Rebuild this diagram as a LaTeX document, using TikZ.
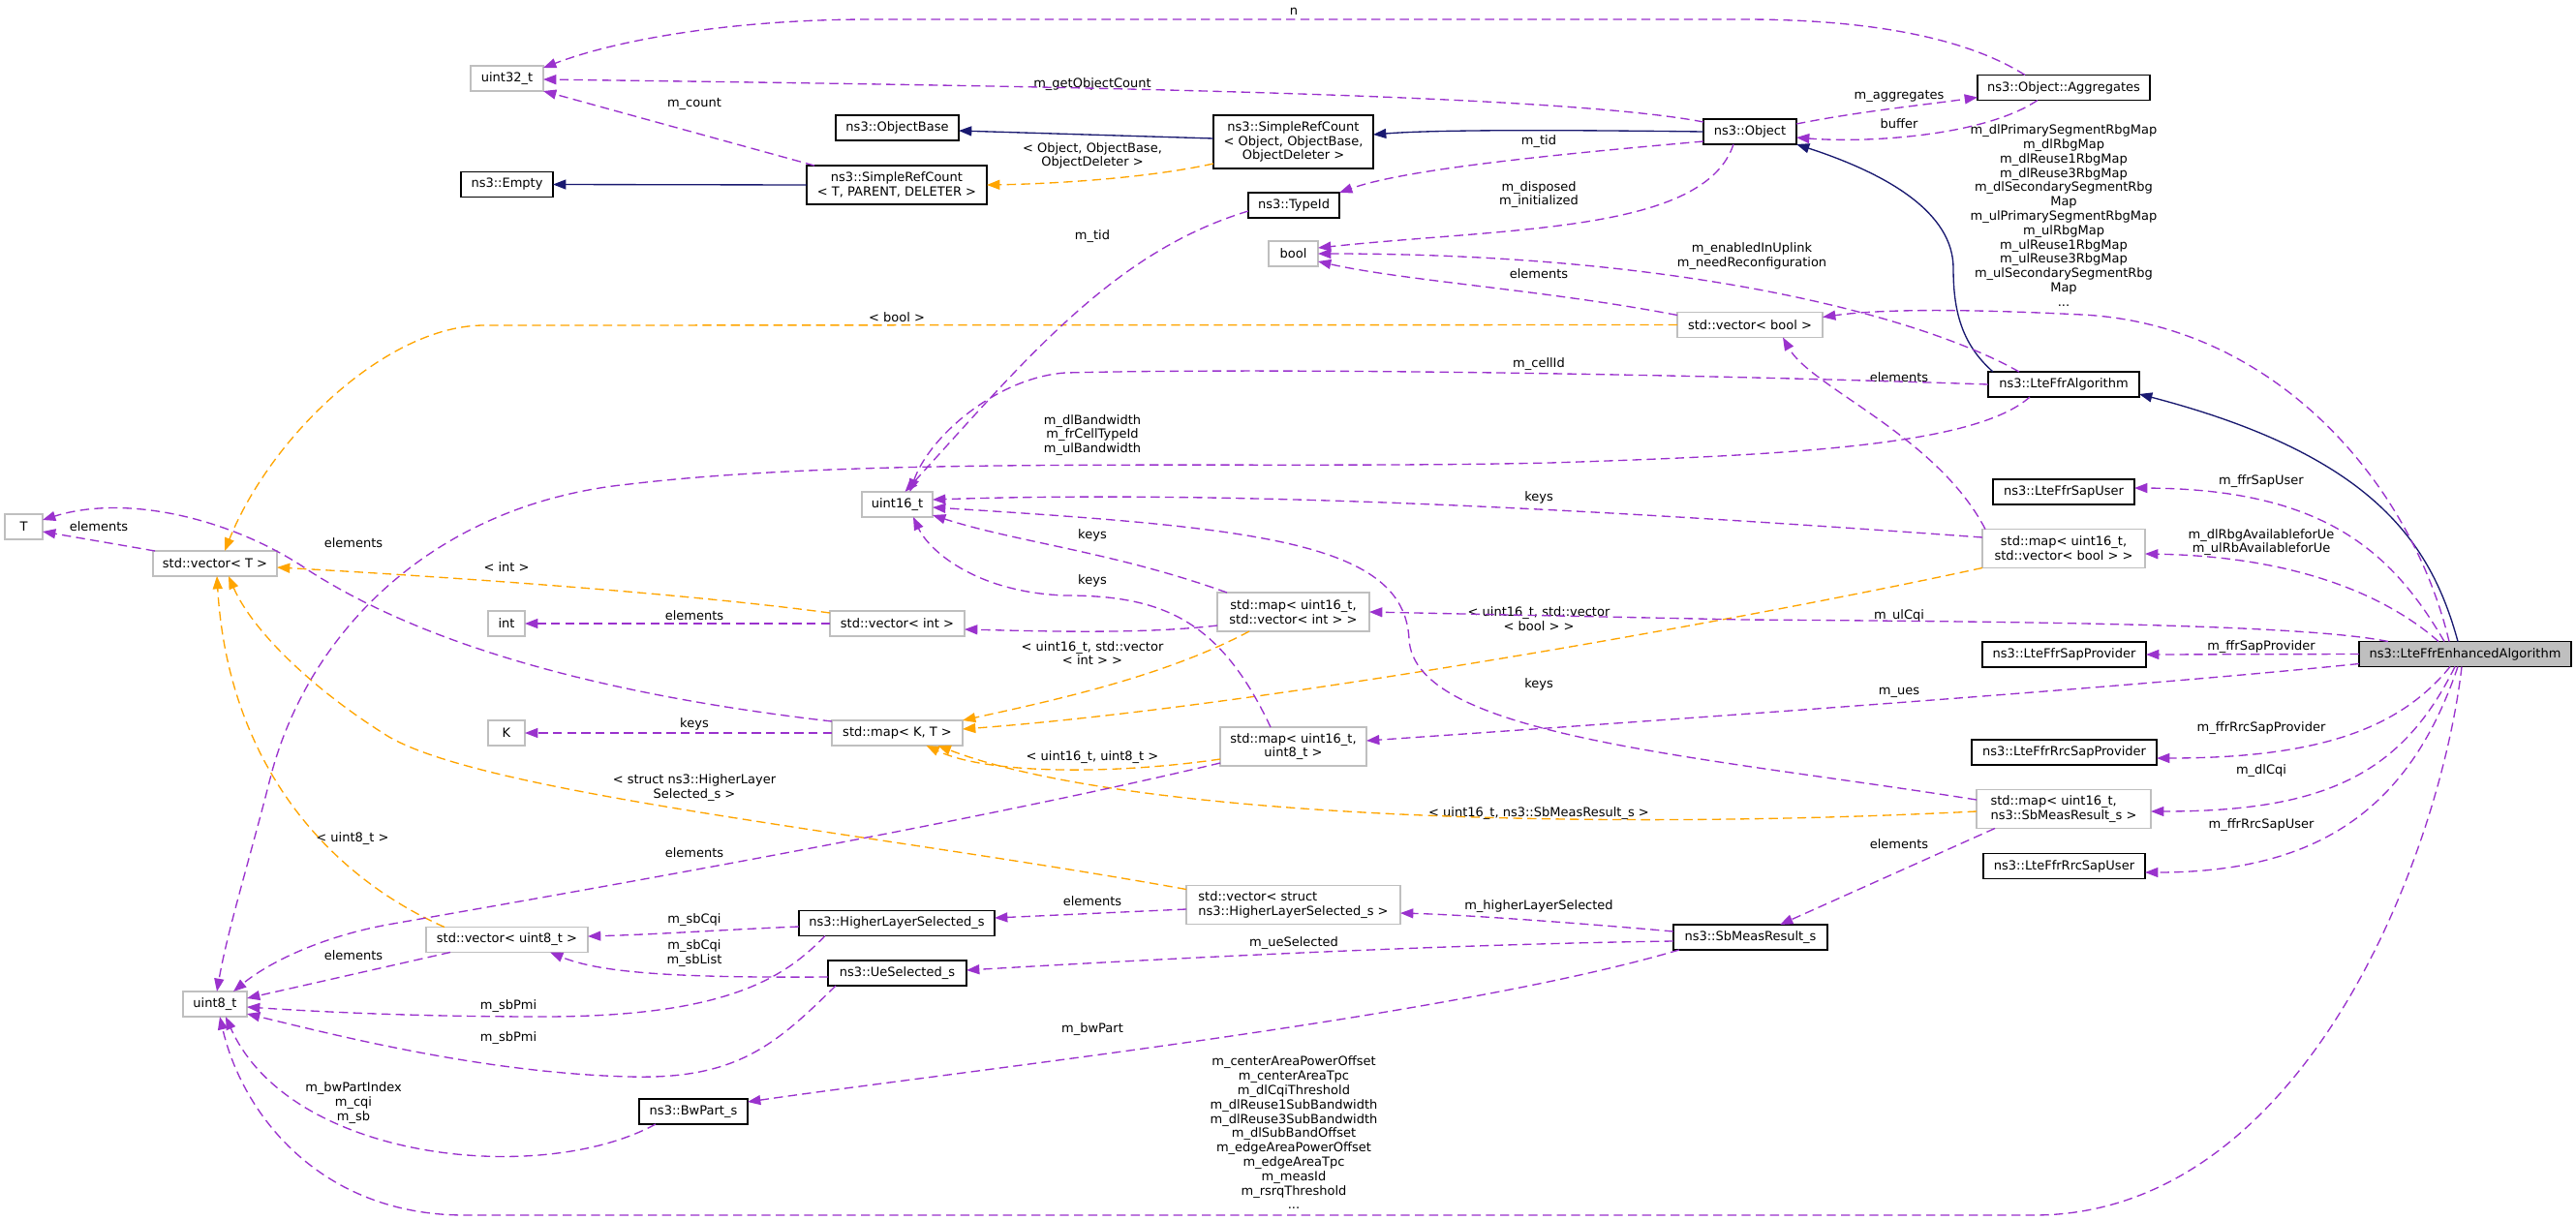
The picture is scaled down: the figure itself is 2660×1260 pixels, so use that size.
\documentclass[tikz,border=0pt]{standalone}
\usepackage{fontspec}
\setmainfont{DejaVu Sans}
\usetikzlibrary{arrows.meta,calc}
\definecolor{pur}{HTML}{9A32CD}
\definecolor{org}{HTML}{FFA500}
\definecolor{nav}{HTML}{191970}
\definecolor{gry}{HTML}{BFBFBF}
\begin{document}
\begin{tikzpicture}[x=0.75pt,y=-0.75pt,
  every node/.style={font=\fontsize{9.75}{11.1}\selectfont, inner sep=0pt, outer sep=0pt},
  cls/.style={draw=black, line width=0.9pt, minimum height=19.5pt, fill=white, align=center},
  ext/.style={draw=gry, line width=0.9pt, minimum height=19.5pt, fill=white, align=center},
  twol/.style={minimum height=30pt},
  threel/.style={minimum height=41.25pt},
  lbl/.style={align=center},
  pe/.style={draw=pur, line width=1pt, dash pattern=on 7pt off 4pt, -{Triangle[length=10pt,width=7.5pt]}},
  oe/.style={draw=org, line width=1pt, dash pattern=on 7pt off 4pt, -{Triangle[length=10pt,width=7.5pt]}},
  ne/.style={draw=nav, line width=1pt, -{Triangle[length=10pt,width=7.5pt]}}
]
\fill[white] (0,0) rectangle (2660,1260);
\useasboundingbox (0,0) rectangle (2660,1260);

% ---------- class nodes ----------
\node[cls, minimum width=95.25pt] (objbase) at (926.5,132) {ns3::ObjectBase};
\node[cls, threel, minimum width=123.75pt] (srcobj) at (1335.5,146.5) {ns3::SimpleRefCount\\< Object, ObjectBase,\\ObjectDeleter >};
\node[cls, minimum width=72pt] (object) at (1807,136) {ns3::Object};
\node[cls, minimum width=133.5pt] (aggr) at (2131,90.5) {ns3::Object::Aggregates};
\node[cls, minimum width=71.25pt] (empty) at (523.5,190.5) {ns3::Empty};
\node[cls, twol, minimum width=139.5pt] (srct) at (926,191) {ns3::SimpleRefCount\\< T, PARENT, DELETER >};
\node[cls, minimum width=70.5pt] (typeid) at (1336,212) {ns3::TypeId};
\node[cls, minimum width=117pt] (ffralg) at (2131,397) {ns3::LteFfrAlgorithm};
\node[cls, minimum width=109.5pt] (sapuser) at (2131,508) {ns3::LteFfrSapUser};
\node[cls, minimum width=126.75pt] (sapprov) at (2131.5,676) {ns3::LteFfrSapProvider};
\node[cls, fill=gry, minimum width=164.25pt] (main) at (2545.5,675.5) {ns3::LteFfrEnhancedAlgorithm};
\node[cls, minimum width=143.25pt] (rrcprov) at (2131.5,777) {ns3::LteFfrRrcSapProvider};
\node[cls, minimum width=125.25pt] (rrcuser) at (2131.5,894.5) {ns3::LteFfrRrcSapUser};
\node[cls, minimum width=119.25pt] (sbmeas) at (1807.5,968) {ns3::SbMeasResult\_s};
\node[cls, minimum width=151.5pt] (hls) at (926,953.5) {ns3::HigherLayerSelected\_s};
\node[cls, minimum width=107.25pt] (uesel) at (926.5,1005) {ns3::UeSelected\_s};
\node[cls, minimum width=84pt] (bwpart) at (716,1148) {ns3::BwPart\_s};

% ---------- external nodes ----------
\node[ext, minimum width=56.25pt] (u32) at (523.5,81) {uint32\_t};
\node[ext, minimum width=38.25pt] (bool) at (1335.5,262) {bool};
\node[ext, minimum width=112.5pt] (vbool) at (1807,335.5) {std::vector< bool >};
\node[ext, minimum width=29.25pt] (T) at (24.5,544) {T};
\node[ext, minimum width=96pt] (vt) at (222,582) {std::vector< T >};
\node[ext, minimum width=54.75pt] (u16) at (926.5,521) {uint16\_t};
\node[ext, minimum width=28.5pt] (int) at (523,644) {int};
\node[ext, minimum width=104.25pt] (vint) at (926.5,644) {std::vector< int >};
\node[ext, minimum width=28.5pt] (K) at (523,757) {K};
\node[ext, minimum width=101.25pt] (mapkt) at (926.5,757) {std::map< K, T >};
\node[ext, twol, minimum width=117.75pt] (mapvint) at (1335.5,632) {std::map< uint16\_t,\\std::vector< int > >};
\node[ext, twol, minimum width=113.25pt] (mapu8) at (1335.5,771) {std::map< uint16\_t,\\uint8\_t >};
\node[ext, twol, minimum width=126pt] (mapvbool) at (2131,566.5) {std::map< uint16\_t,\\std::vector< bool > >};
\node[ext, twol, minimum width=135pt, align=left] (mapsb) at (2131,835.5) {std::map< uint16\_t,\\ns3::SbMeasResult\_s >};
\node[ext, twol, minimum width=165.75pt, align=left] (vhls) at (1335.5,934.5) {std::vector< struct\\ ns3::HigherLayerSelected\_s >};
\node[ext, minimum width=49.5pt] (u8) at (222,1037) {uint8\_t};
\node[ext, minimum width=125.25pt] (vu8) at (523.5,970.5) {std::vector< uint8\_t >};

% ---------- edge labels ----------
\node[lbl] (lbn) at (1336,12) {n};
\node[lbl] (lbgoc) at (1128,87) {m\_getObjectCount};
\node[lbl] (lbcount) at (717,107) {m\_count};
\node[lbl] (lbaggr) at (1961,99) {m\_aggregates};
\node[lbl] (lbbuf) at (1961,128) {buffer};
\node[lbl] (lbtid1) at (1589,146) {m\_tid};
\node[lbl] (lbdisp) at (1589,201) {m\_disposed\\m\_initialized};
\node[lbl] (lbtmobj) at (1128,161) {< Object, ObjectBase,\\ObjectDeleter >};
\node[lbl] (lbtid2) at (1128,244) {m\_tid};
\node[lbl] (lbbig) at (2131,222.5) {m\_dlPrimarySegmentRbgMap\\m\_dlRbgMap\\m\_dlReuse1RbgMap\\m\_dlReuse3RbgMap\\m\_dlSecondarySegmentRbg\\Map\\m\_ulPrimarySegmentRbgMap\\m\_ulRbgMap\\m\_ulReuse1RbgMap\\m\_ulReuse3RbgMap\\m\_ulSecondarySegmentRbg\\Map\\...};
\node[lbl] (lbenab) at (1809,264.5) {m\_enabledInUplink\\m\_needReconfiguration};
\node[lbl] (lbelbool) at (1589,283) {elements};
\node[lbl] (lbbool) at (926,328) {< bool >};
\node[lbl] (lbcell) at (1589,376) {m\_cellId};
\node[lbl] (lbelvb) at (1961,390) {elements};
\node[lbl] (lbbw) at (1128,449.5) {m\_dlBandwidth\\m\_frCellTypeId\\m\_ulBandwidth};
\node[lbl] (lbkeys1) at (1589,514) {keys};
\node[lbl] (lbelT1) at (102,544) {elements};
\node[lbl] (lbelT2) at (365,561) {elements};
\node[lbl] (lbkeys2) at (1128,553) {keys};
\node[lbl] (lbint) at (523,586) {< int >};
\node[lbl] (lbkeys3) at (1128,600) {keys};
\node[lbl] (lbtmvint) at (1128,674.5) {< uint16\_t, std::vector\\< int > >};
\node[lbl] (lbelint) at (717,636) {elements};
\node[lbl] (lbtmvbool) at (1589,639.5) {< uint16\_t, std::vector\\< bool > >};
\node[lbl] (lbulcqi) at (1961,636) {m\_ulCqi};
\node[lbl] (lbues) at (1961,715) {m\_ues};
\node[lbl] (lbkeysK) at (717,748) {keys};
\node[lbl] (lbtmu8) at (1128,782) {< uint16\_t, uint8\_t >};
\node[lbl] (lbkeys4) at (1589,707) {keys};
\node[lbl] (lbtmhls) at (717,813.5) {< struct ns3::HigherLayer\\Selected\_s >};
\node[lbl] (lbtmsb) at (1589,840) {< uint16\_t, ns3::SbMeasResult\_s >};
\node[lbl] (lbtmu8b) at (364,866) {< uint8\_t >};
\node[lbl] (lbelu8) at (717,881) {elements};
\node[lbl] (lbelsb) at (1961,872) {elements};
\node[lbl] (lbelhls) at (1128,931) {elements};
\node[lbl] (lbhls) at (1589,936) {m\_higherLayerSelected};
\node[lbl] (lbsbcqi) at (717,950) {m\_sbCqi};
\node[lbl] (lbuesel) at (1336,974) {m\_ueSelected};
\node[lbl] (lbsblist) at (717,984.5) {m\_sbCqi\\m\_sbList};
\node[lbl] (lbelvu8) at (365,987) {elements};
\node[lbl] (lbpmi1) at (525,1039) {m\_sbPmi};
\node[lbl] (lbpmi2) at (525,1072) {m\_sbPmi};
\node[lbl] (lbbwp) at (1128,1063) {m\_bwPart};
\node[lbl] (lbbwpi) at (365,1139) {m\_bwPartIndex\\m\_cqi\\m\_sb};
\node[lbl] (lbbottom) at (1336,1170) {m\_centerAreaPowerOffset\\m\_centerAreaTpc\\m\_dlCqiThreshold\\m\_dlReuse1SubBandwidth\\m\_dlReuse3SubBandwidth\\m\_dlSubBandOffset\\m\_edgeAreaPowerOffset\\m\_edgeAreaTpc\\m\_measId\\m\_rsrqThreshold\\...};
\node[lbl] (lbsapu) at (2335,497) {m\_ffrSapUser};
\node[lbl] (lbrbg) at (2335,560) {m\_dlRbgAvailableforUe\\m\_ulRbAvailableforUe};
\node[lbl] (lbsapp) at (2335,668) {m\_ffrSapProvider};
\node[lbl] (lbrrcp) at (2335,752) {m\_ffrRrcSapProvider};
\node[lbl] (lbdlcqi) at (2335,796) {m\_dlCqi};
\node[lbl] (lbrrcu) at (2335,852) {m\_ffrRrcSapUser};

% ---------- inheritance (navy) ----------
\draw[ne] ($(main.north)+(-7.5,0)$) .. controls (2510,560) and (2450,470) .. ($(ffralg.east)+(0,10)$);
\draw[ne] ($(ffralg.north)+(-73,0)$) .. controls (2025,355) and (2017,320) .. (2017,277) .. controls (2017,220) and (1950,180) .. (object.south east);
\draw[ne] (object.west) .. controls (1600,134) and (1480,134) .. ($(srcobj.east)+(0,-7.5)$);
\draw[ne] ($(srcobj.west)+(0,-3.5)$) -- ($(objbase.east)+(0,3)$);
\draw[ne] (srct.west) -- (empty.east);

% ---------- template instances (orange) ----------
\draw[oe] ($(srcobj.west)+(0,22.5)$) .. controls (1180,185) and (1080,190) .. (srct.east);
\draw[oe] (vbool.west) -- (500,336) .. controls (400,336) and (280,450) .. ($(vt.north)+(10,0)$);
\draw[oe] ($(vint.west)+(0,-11)$) .. controls (700,612) and (450,595) .. ($(vt.east)+(0,4)$);
\draw[oe] ($(vhls.north west)+(0,4)$) .. controls (900,860) and (500,820) .. (400,760) .. controls (320,710) and (260,650) .. ($(vt.south)+(14,0)$);
\draw[oe] ($(vu8.north)+(-64.5,0)$) .. controls (330,900) and (235,780) .. ($(vt.south)+(2,0)$);
\draw[oe] ($(mapvint.south west)+(33,0)$) .. controls (1200,700) and (1080,725) .. (mapkt.north east);
\draw[oe] (mapvbool.south west) .. controls (1800,640) and (1300,730) .. ($(mapkt.east)+(0,-4)$);
\draw[oe] ($(mapu8.west)+(0,13)$) .. controls (1150,800) and (1020,800) .. ($(mapkt.south)+(30,0)$);
\draw[oe] ($(mapsb.west)+(0,2.5)$) .. controls (1600,860) and (1150,840) .. ($(mapkt.south)+(42,0)$);

% ---------- members (purple) ----------
\draw[pe] ($(aggr.north)+(-40,0)$) .. controls (2040,45) and (1950,20) .. (1800,20) -- (900,20) .. controls (760,20) and (640,40) .. ($(u32.east)+(0,-11)$);
\draw[pe] ($(object.west)+(0,-10)$) .. controls (1600,95) and (1000,88) .. ($(u32.east)+(0,1)$);
\draw[pe] ($(srct.north)+(-85,0)$) -- (u32.south east);
\draw[pe] ($(object.east)+(0,-8)$) .. controls (1920,115) and (1990,108) .. ($(aggr.west)+(0,10)$);
\draw[pe] ($(aggr.south)+(-27,0)$) .. controls (2050,140) and (1930,148) .. ($(object.east)+(0,6)$);
\draw[pe] ($(object.west)+(0,10)$) .. controls (1600,160) and (1450,175) .. (typeid.north east);
\draw[pe] ($(object.south)+(-17,0)$) .. controls (1760,240) and (1560,235) .. ($(bool.east)+(0,-6)$);
\draw[pe] ($(typeid.west)+(0,6)$) .. controls (1150,260) and (1060,370) .. ($(u16.north)+(8,0)$);
\draw[pe] ($(ffralg.north)+(-46,0)$) .. controls (1990,330) and (1750,262) .. (bool.east);
\draw[pe] ($(vbool.west)+(0,-10)$) .. controls (1600,300) and (1450,290) .. ($(bool.east)+(0,8)$);
\draw[pe] ($(main.north)+(-16.5,0)$) .. controls (2490,500) and (2350,335) .. (2150,325) .. controls (2050,320) and (1950,318) .. ($(vbool.east)+(0,-8)$);
\draw[pe] (ffralg.west) .. controls (1700,385) and (1300,380) .. (1100,385) .. controls (1030,390) and (960,450) .. ($(u16.north)+(13,0)$);
\draw[pe] ($(ffralg.south)+(-35,0)$) .. controls (2040,460) and (1850,470) .. (1600,478) .. controls (1300,485) and (900,470) .. (650,500) .. controls (450,520) and (320,650) .. (280,800) .. controls (260,880) and (235,960) .. ($(u8.north)+(2,0)$);
\draw[pe] ($(mapvbool.north west)+(3,0)$) .. controls (2000,450) and (1870,400) .. ($(vbool.south)+(34,0)$);
\draw[pe] ($(mapvbool.west)+(0,-11.5)$) .. controls (1700,530) and (1300,505) .. ($(u16.east)+(0,-5)$);
\draw[pe] ($(main.north)+(-21.5,0)$) .. controls (2470,570) and (2400,505) .. ($(sapuser.east)+(0,-4)$);
\draw[pe] ($(main.north)+(-27.5,0)$) .. controls (2470,620) and (2380,575) .. ($(mapvbool.east)+(0,5.5)$);
\draw[pe] ($(main.north)+(-79.5,0)$) .. controls (2380,645) and (2100,642) .. (1800,640) -- (mapvint.east);
\draw[pe] (main.west) -- (sapprov.east);
\draw[pe] ($(main.west)+(0,10)$) .. controls (2200,710) and (1700,745) .. ($(mapu8.east)+(0,-6)$);
\draw[pe] ($(main.south)+(-15.5,0)$) .. controls (2480,750) and (2400,783) .. ($(rrcprov.east)+(0,6)$);
\draw[pe] ($(main.south)+(-10.5,0)$) .. controls (2480,800) and (2400,838) .. ($(mapsb.east)+(0,2.5)$);
\draw[pe] ($(main.south)+(-7.5,0)$) .. controls (2490,830) and (2400,901) .. ($(rrcuser.east)+(0,6.5)$);
\draw[pe] ($(main.south)+(-3.5,0)$) .. controls (2520,880) and (2380,1255) .. (2100,1255) -- (480,1255) .. controls (330,1255) and (250,1150) .. ($(u8.south)+(5,0)$);
\draw[pe] ($(mapvint.north west)+(10,0)$) .. controls (1150,570) and (1050,560) .. ($(u16.east)+(0,11)$);
\draw[pe] ($(mapvint.west)+(0,14)$) .. controls (1180,655) and (1080,652) .. ($(vint.east)+(0,6)$);
\draw[pe] (vint.west) -- (int.east);
\draw[pe] (mapkt.west) -- (K.east);
\draw[pe] ($(mapkt.west)+(0,-12)$) .. controls (600,715) and (430,660) .. (320,590) .. controls (240,535) and (130,510) .. ($(T.east)+(0,-7)$);
\draw[pe] ($(vt.north west)+(2,0)$) -- ($(T.east)+(0,5)$);
\draw[pe] ($(mapu8.north)+(-23.5,0)$) .. controls (1260,640) and (1200,615) .. (1100,615) .. controls (1010,612) and (960,570) .. ($(u16.south)+(16.5,0)$);
\draw[pe] ($(mapu8.west)+(0,17)$) .. controls (1000,850) and (600,920) .. (400,955) .. controls (320,970) and (270,1000) .. ($(u8.north)+(19,0)$);
\draw[pe] ($(mapsb.west)+(0,-9.5)$) .. controls (1750,780) and (1460,760) .. (1455,660) .. controls (1450,560) and (1300,545) .. ($(u16.east)+(0,3)$);
\draw[pe] ($(mapsb.south west)+(19,0)$) -- ($(sbmeas.north)+(30.5,0)$);
\draw[pe] ($(sbmeas.west)+(0,-6)$) .. controls (1650,955) and (1520,945) .. ($(vhls.east)+(0,8.5)$);
\draw[pe] ($(sbmeas.west)+(0,4)$) .. controls (1500,975) and (1200,990) .. ($(uesel.east)+(0,-3)$);
\draw[pe] ($(sbmeas.south west)+(6,0)$) .. controls (1500,1050) and (1000,1105) .. ($(bwpart.east)+(0,-10)$);
\draw[pe] ($(vhls.west)+(0,4.5)$) -- ($(hls.east)+(0,-5.5)$);
\draw[pe] ($(hls.west)+(0,3.5)$) .. controls (750,960) and (680,965) .. ($(vu8.east)+(0,-3.5)$);
\draw[pe] ($(hls.south west)+(27,0)$) .. controls (810,1010) and (750,1050) .. (560,1050) .. controls (430,1050) and (330,1045) .. ($(u8.east)+(0,3)$);
\draw[pe] ($(uesel.west)+(0,4)$) .. controls (700,1010) and (620,1005) .. ($(vu8.south)+(44.5,0)$);
\draw[pe] ($(uesel.south west)+(8,0)$) .. controls (800,1080) and (760,1115) .. (650,1112) .. controls (500,1108) and (350,1070) .. ($(u8.east)+(0,10)$);
\draw[pe] ($(vu8.south)+(-58.5,0)$) -- ($(u8.east)+(0,-6)$);
\draw[pe] ($(bwpart.south west)+(17,0)$) .. controls (560,1225) and (300,1200) .. ($(u8.south)+(11,0)$);
\end{tikzpicture}
\end{document}
